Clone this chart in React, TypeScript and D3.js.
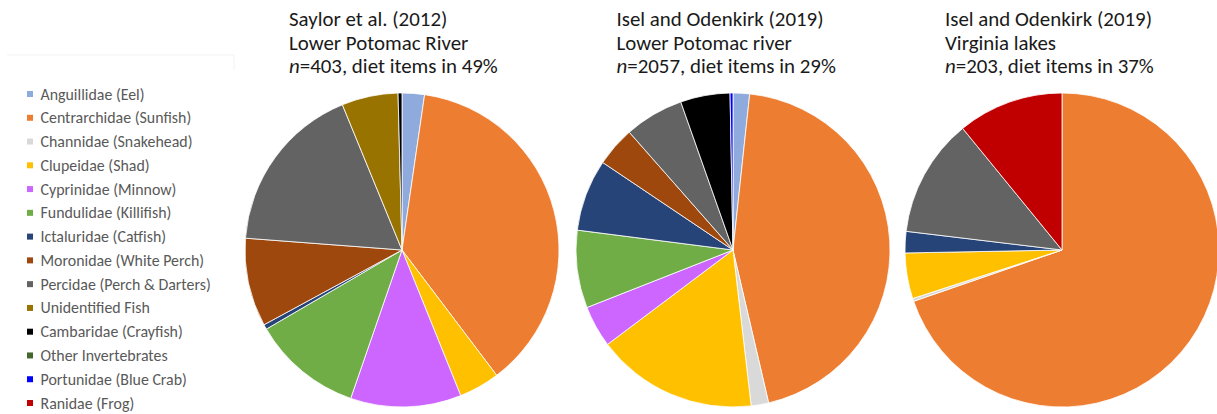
import React from 'react'
import * as d3 from 'd3'

// Prey families, in legend order
const families = [
  'Anguillidae (Eel)',
  'Centrarchidae (Sunfish)',
  'Channidae (Snakehead)',
  'Clupeidae (Shad)',
  'Cyprinidae (Minnow)',
  'Fundulidae (Killifish)',
  'Ictaluridae (Catfish)',
  'Moronidae (White Perch)',
  'Percidae (Perch & Darters)',
  'Unidentified Fish',
  'Cambaridae (Crayfish)',
  'Other Invertebrates',
  'Portunidae (Blue Crab)',
  'Ranidae (Frog)',
]

const familyColors = [
  '#8FAADC', '#ED7D31', '#D9D9D9', '#FFC000', '#CC66FF', '#70AD47', '#264478',
  '#9E480E', '#636363', '#997300', '#000000', '#43682B', '#0000FF', '#C00000',
]

// Percent of diet items, one value per family (legend order)
const saylorPotomac = [2.3, 37.4, 0, 4.2, 11.4, 11.3, 0.5, 9.1, 17.6, 5.8, 0.4, 0, 0, 0]
const iselPotomac = [1.7, 44.7, 1.8, 16.6, 4.3, 8.0, 7.4, 4.1, 6.1, 0, 5.1, 0, 0.3, 0]
const iselVirginia = [0, 69.7, 0.3, 4.7, 0, 0, 2.2, 0, 12.2, 0, 0, 0, 0, 10.9]

const titleLines1 = ['Saylor et al. (2012)', 'Lower Potomac River']
const titleLines2 = ['Isel and Odenkirk (2019)', 'Lower Potomac river']
const titleLines3 = ['Isel and Odenkirk (2019)', 'Virginia lakes']
const sampleSizes = ['403', '2057', '203']
const dietShares = ['49%', '29%', '37%']

const W = 1217
const H = 414
const FONT = "Carlito, Calibri, 'Open Sans', sans-serif"

interface PanelProps {
  values: number[]
  cx: number
  titleX: number
  lines: string[]
  n: string
  share: string
}

const radius = 157
const cy = 250

const color = d3.scaleOrdinal<string, string>().domain(families).range(familyColors)

const Panel: React.FC<PanelProps> = ({ values, cx, titleX, lines, n, share }) => {
  const rows = families.map((f, i) => ({ family: f, value: values[i] }))
  const pie = d3.pie<{ family: string; value: number }>().value(d => d.value).sort(null)
  const arcs = pie(rows).filter(a => a.data.value > 0)
  const arcGen = d3.arc<d3.PieArcDatum<{ family: string; value: number }>>()
    .innerRadius(0)
    .outerRadius(radius)

  return (
    <g>
      <g transform={`translate(${cx},${cy})`}>
        {arcs.map(a => (
          <path key={a.data.family} d={arcGen(a) || ''} fill={color(a.data.family)}
            stroke="#ffffff" strokeWidth={0.8} strokeLinejoin="round" />
        ))}
      </g>
      <g fontFamily={FONT} fontSize={20.9} fill="#1a1a1a">
        {lines.map((l, i) => (
          <text key={i} x={titleX} y={26 + i * 23.5}>{l}</text>
        ))}
        <text x={titleX} y={26 + 2 * 23.5}>
          <tspan fontStyle="italic">n</tspan>={n}, diet items in {share}
        </text>
      </g>
    </g>
  )
}

const App: React.FC = () => {
  const legendY = d3.scaleLinear().domain([0, families.length - 1]).range([94, 403])

  return (
    <div style={{ position: 'absolute', left: 0, top: 0 }}>
      <svg width={W} height={H} viewBox={`0 0 ${W} ${H}`} style={{ display: 'block', background: '#fff' }}>
        {/* faint legend frame */}
        <path d="M7,55 H234 V70" fill="none" stroke="#f3f3f3" strokeWidth={1} />

        {/* Legend */}
        <g fontFamily={FONT} fontSize={15.9} fill="#595959">
          {families.map((f, i) => (
            <g key={f} transform={`translate(0,${legendY(i)})`}>
              <rect x={27} y={-3} width={6} height={6} fill={color(f)} />
              <text x={40.5} y={0} dominantBaseline="central">{f}</text>
            </g>
          ))}
        </g>

        <Panel values={saylorPotomac} cx={402} titleX={289} lines={titleLines1} n={sampleSizes[0]} share={dietShares[0]} />
        <Panel values={iselPotomac} cx={733} titleX={616.5} lines={titleLines2} n={sampleSizes[1]} share={dietShares[1]} />
        <Panel values={iselVirginia} cx={1062} titleX={945} lines={titleLines3} n={sampleSizes[2]} share={dietShares[2]} />
      </svg>
    </div>
  )
}

export default App
